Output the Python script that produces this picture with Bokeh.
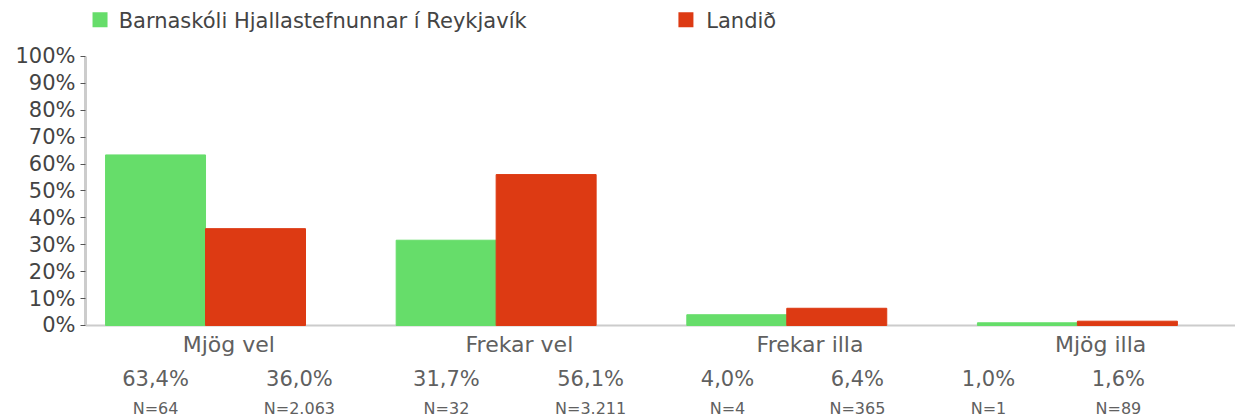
import numpy as np
from bokeh.plotting import figure
from bokeh.models import ColumnDataSource, FixedTicker, Span, Range1d
from bokeh.core.properties import value
from bokeh.embed import file_html
from bokeh.resources import INLINE

# ---- data ----
categories = ["Mjög vel", "Frekar vel", "Frekar illa", "Mjög illa"]
school_name = "Barnaskóli Hjallastefnunnar í Reykjavík"
country_name = "Landið"
school_pct = [63.4, 31.7, 4.0, 1.0]
country_pct = [36.0, 56.1, 6.4, 1.6]
school_n = ["N=64", "N=32", "N=4", "N=1"]
country_n = ["N=2.063", "N=3.211", "N=365", "N=89"]
y_ticks = [0, 10, 20, 30, 40, 50, 60, 70, 80, 90, 100]

GREEN = "#66dd6a"
RED = "#dd3a13"
TXT = "#606060"
FNAME = "DejaVu Sans"
FONT = value(FNAME)

def fmt(v):
    return f"{v:.1f}".replace(".", ",") + "%"

idx = np.arange(len(categories))
BW = 0.344
DY = 3.0  # baseline correction (data units)

p = figure(width=1235, height=419, output_backend="svg", toolbar_location=None,
           x_range=Range1d(-0.413, 3.544), y_range=Range1d(-34.94, 120.8),
           min_border_left=85, min_border_right=0, min_border_top=0, min_border_bottom=0)
p.outline_line_color = None
p.xgrid.visible = False
p.ygrid.visible = False
p.xaxis.visible = False

ya = p.yaxis[0]
ya.bounds = (0, 100)
ya.ticker = FixedTicker(ticks=y_ticks)
ya.major_label_overrides = {t: f"{t}%" for t in y_ticks}
ya.axis_line_color = "#cccccc"
ya.axis_line_width = 3
ya.major_tick_line_color = "#555555"
ya.major_tick_out = 5
ya.major_tick_in = 0
ya.minor_tick_line_color = None
ya.major_label_text_font = FNAME
ya.major_label_text_font_size = "21px"
ya.major_label_text_color = "#444444"
ya.major_label_standoff = 5

p.add_layout(Span(location=0, dimension="width", line_color="#cccccc", line_width=2, level="underlay"))

src = ColumnDataSource(dict(
    xs=idx - BW / 2, xc=idx + BW / 2, s=school_pct, c=country_pct))
p.vbar(x="xs", top="s", bottom=0, width=BW, source=src, fill_color=GREEN, line_color=GREEN)
p.vbar(x="xc", top="c", bottom=0, width=BW, source=src, fill_color=RED, line_color=RED)

# category labels
p.text(x=idx + 0.08, y=[-10.0 + DY] * 4, text=categories, text_font=FONT, text_font_size="22px",
       text_color=TXT, text_align="center", text_baseline="alphabetic")

# percentage / N columns (layout offsets)
left_off = [-0.172, -0.171, -0.204, -0.306]
right_off = [0.323, 0.325, 0.243, 0.141]
lx = idx + np.array(left_off)
rx = idx + np.array(right_off)
p.text(x=lx, y=[-23.0 + DY] * 4, text=[fmt(v) for v in school_pct], text_font=FONT,
       text_font_size="21px", text_color=TXT, text_align="center", text_baseline="alphabetic")
p.text(x=rx, y=[-23.0 + DY] * 4, text=[fmt(v) for v in country_pct], text_font=FONT,
       text_font_size="21px", text_color=TXT, text_align="center", text_baseline="alphabetic")
p.text(x=lx, y=[-33.8 + DY] * 4, text=school_n, text_font=FONT,
       text_font_size="16px", text_color=TXT, text_align="center", text_baseline="alphabetic")
p.text(x=rx, y=[-33.8 + DY] * 4, text=country_n, text_font=FONT,
       text_font_size="16px", text_color=TXT, text_align="center", text_baseline="alphabetic")

# legend
p.rect(x=[-0.363, 1.653], y=[113.6, 113.6], width=15, height=15, width_units="screen",
       height_units="screen", fill_color=[GREEN, RED], line_color=None)
p.text(x=[-0.299, 1.723], y=[110.0 + DY, 110.0 + DY], text=[school_name, country_name], text_font=FONT,
       text_font_size="21px", text_color="#444444", text_align="left", text_baseline="alphabetic")

open("out.html", "w").write(file_html(p, INLINE))
